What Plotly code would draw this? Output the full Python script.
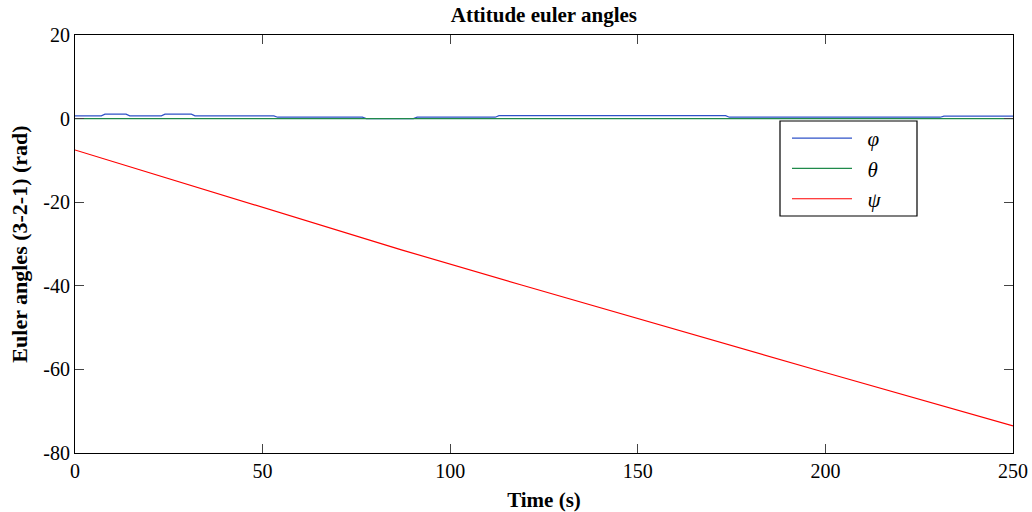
import plotly.graph_objects as go

# Attitude Euler angles (3-2-1 sequence) over the simulation time
t_phi = [0, 7.0, 8.0, 13.6, 14.6, 23.0, 24.0, 31.0, 32.0, 53.0, 54.0, 76.6, 77.6,
         90.2, 91.2, 112.0, 113.0, 173.4, 174.4, 230.6, 231.6, 250]
phi = [0.65, 0.65, 1.05, 1.05, 0.65, 0.65, 1.05, 1.05, 0.65, 0.65, 0.33, 0.33, 0.0,
       0.0, 0.33, 0.33, 0.7, 0.7, 0.33, 0.33, 0.6, 0.6]

t_theta = [0, 250]
theta = [0.0, 0.0]

t_psi = [0, 87, 119, 167, 199, 250]
psi = [-7.5, -31.4, -39.8, -52.3, -60.5, -73.5]

x_ticks = [0, 50, 100, 150, 200, 250]
x_tick_labels = ["0", "50", "100", "150", "200", "250"]
y_ticks = [-80, -60, -40, -20, 0, 20]
y_tick_labels = ["-80", "-60", "-40", "-20", "0", "20"]

SERIF = "Liberation Serif"

fig = go.Figure()
fig.add_trace(go.Scatter(x=t_phi, y=phi, mode="lines", name="\u2002<i>φ</i>",
                         line=dict(color="#2f52c8", width=1.2)))
fig.add_trace(go.Scatter(x=t_theta, y=theta, mode="lines", name="\u2002<i>θ</i>",
                         line=dict(color="#1f8a4a", width=1.2)))
fig.add_trace(go.Scatter(x=t_psi, y=psi, mode="lines", name="\u2002<i>ψ</i>",
                         line=dict(color="#ff0000", width=1.2)))

axis_common = dict(
    automargin=False,
    showgrid=False, zeroline=False,
    showline=True, linecolor="black", linewidth=1.2, mirror="ticks",
    ticks="inside", ticklen=9, tickwidth=1, tickcolor="#444444",
    tickfont=dict(family=SERIF, size=20, color="black"),
)

# Legend frame (the legend itself is drawn borderless on top of it)
legend_box = dict(type="rect", xref="paper", yref="paper",
                  x0=(780 - 75) / 938, x1=(917 - 75) / 938,
                  y0=(453 - 216) / 418, y1=(453 - 121) / 418,
                  line=dict(color="black", width=1.2), fillcolor="white",
                  layer="above")

fig.update_layout(
    width=1032, height=512,
    margin=dict(l=75, r=19, t=35, b=59, autoexpand=False),
    paper_bgcolor="white", plot_bgcolor="white",
    title=dict(text="<b>Attitude euler angles</b>", x=0.527, xanchor="center",
               y=0.972, yanchor="middle",
               font=dict(family=SERIF, size=21, color="black")),
    xaxis=dict(range=[0, 250], tickvals=x_ticks, ticktext=x_tick_labels,
               title=dict(text="<b>Time (s)</b>", standoff=12,
                          font=dict(family=SERIF, size=21, color="black")),
               **axis_common),
    yaxis=dict(range=[-80, 20], tickvals=y_ticks, ticktext=y_tick_labels,
               title=dict(text="<b>Euler angles (3-2-1) (rad)</b>", standoff=9,
                          font=dict(family=SERIF, size=22, color="black")),
               **axis_common),
    shapes=[legend_box],
    legend=dict(x=(787 - 75) / 938, y=(453 - 118) / 418,
                xanchor="left", yanchor="top",
                bgcolor="rgba(0,0,0,0)", borderwidth=0,
                font=dict(family=SERIF, size=21, color="black"),
                itemwidth=60, tracegroupgap=0),
    showlegend=True,
)

fig.write_html("out.html")
